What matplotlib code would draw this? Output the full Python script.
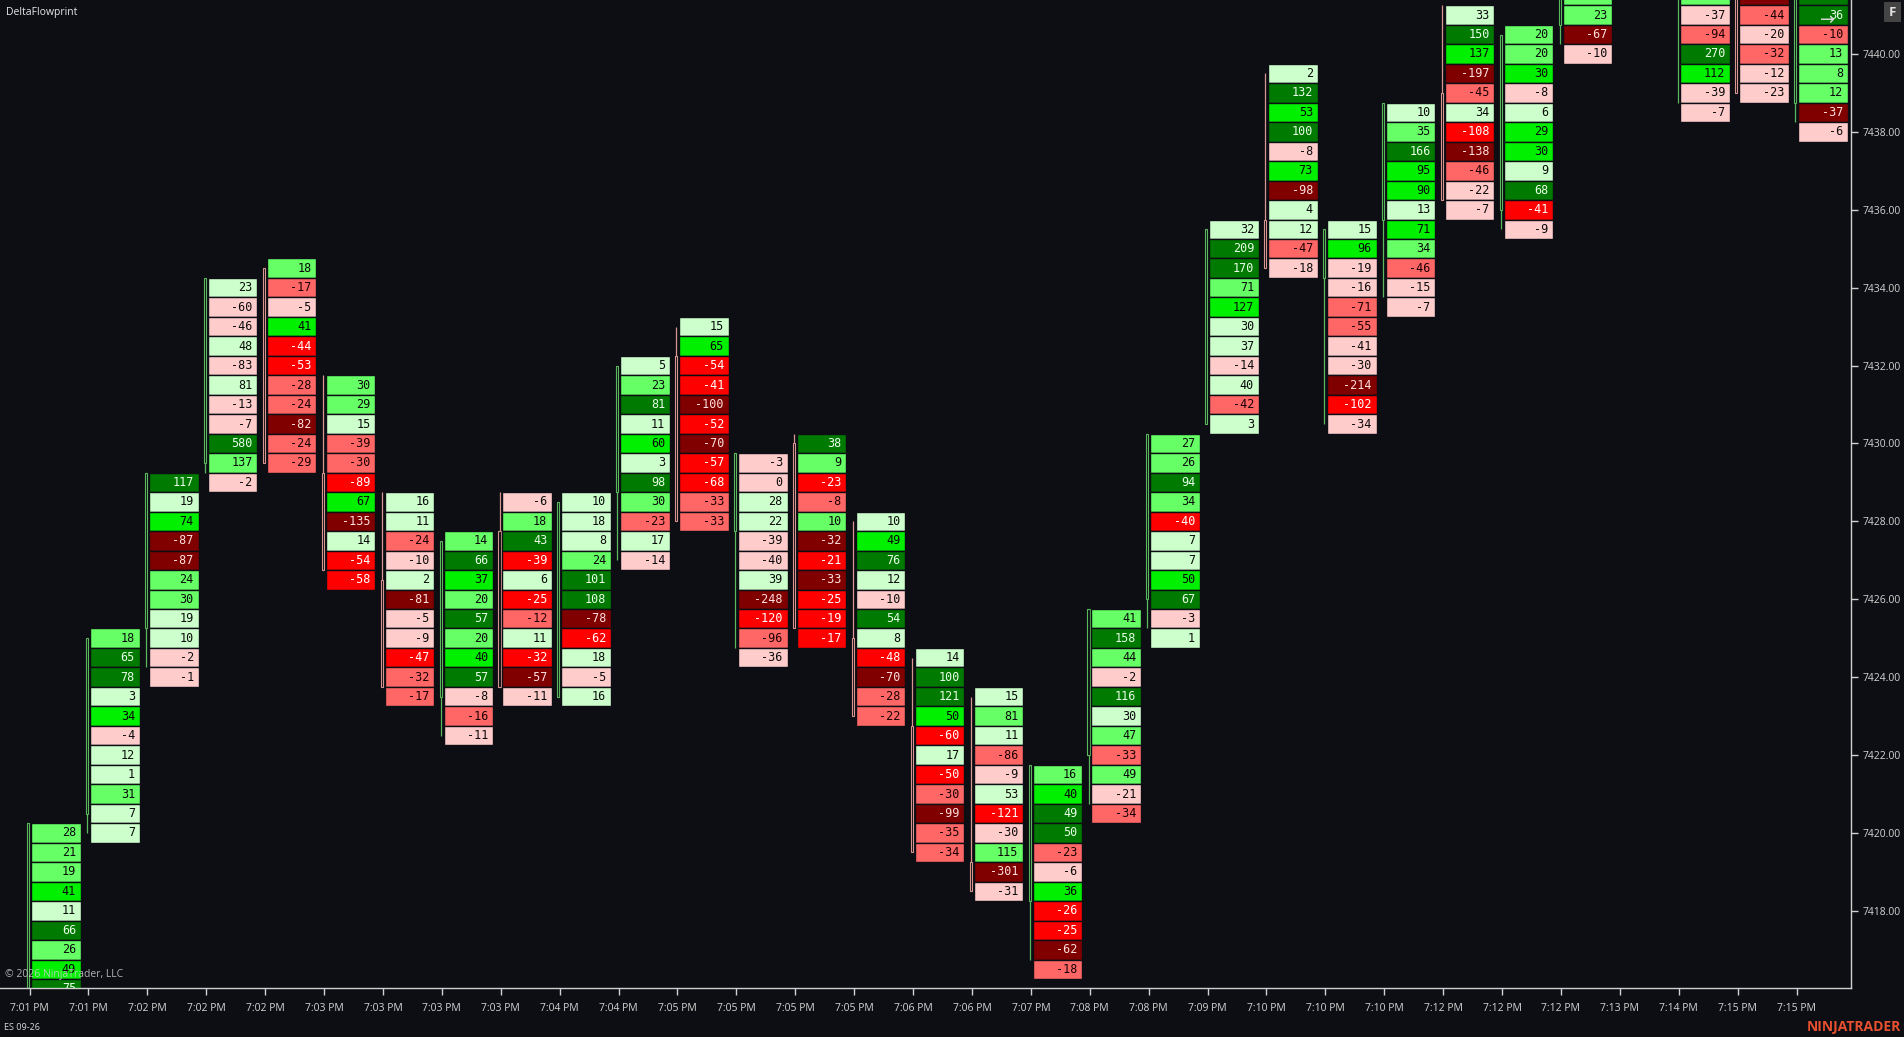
import matplotlib
matplotlib.use("Agg")
import matplotlib.pyplot as plt
from matplotlib.patches import Rectangle
import numpy as np

# ---------------- data ----------------
time_labels = ["7:01 PM", "7:01 PM", "7:02 PM", "7:02 PM", "7:02 PM", "7:03 PM", "7:03 PM",
               "7:03 PM", "7:03 PM", "7:04 PM", "7:04 PM", "7:05 PM", "7:05 PM", "7:05 PM",
               "7:05 PM", "7:06 PM", "7:06 PM", "7:07 PM", "7:08 PM", "7:08 PM", "7:09 PM",
               "7:10 PM", "7:10 PM", "7:10 PM", "7:12 PM", "7:12 PM", "7:12 PM", "7:13 PM",
               "7:14 PM", "7:15 PM", "7:15 PM"]

# price of the top cell of each bar (cells step down by 0.5)
top_prices = [7420.0, 7425.0, 7429.0, 7434.0, 7434.5, 7431.5, 7428.5, 7427.5, 7428.5, 7428.5,
              7432.0, 7433.0, 7429.5, 7430.0, 7428.0, 7424.5, 7423.5, 7421.5, 7425.5, 7430.0,
              7435.5, 7439.5, 7435.5, 7438.5, 7441.0, 7440.5, 7441.5, np.nan, 7441.5, 7441.5,
              7441.5]

deltas = [
    [28, 21, 19, 41, 11, 66, 26, 49, 75],
    [18, 65, 78, 3, 34, -4, 12, 1, 31, 7, 7],
    [117, 19, 74, -87, -87, 24, 30, 19, 10, -2, -1],
    [23, -60, -46, 48, -83, 81, -13, -7, 580, 137, -2],
    [18, -17, -5, 41, -44, -53, -28, -24, -82, -24, -29],
    [30, 29, 15, -39, -30, -89, 67, -135, 14, -54, -58],
    [16, 11, -24, -10, 2, -81, -5, -9, -47, -32, -17],
    [14, 66, 37, 20, 57, 20, 40, 57, -8, -16, -11],
    [-6, 18, 43, -39, 6, -25, -12, 11, -32, -57, -11],
    [10, 18, 8, 24, 101, 108, -78, -62, 18, -5, 16],
    [5, 23, 81, 11, 60, 3, 98, 30, -23, 17, -14],
    [15, 65, -54, -41, -100, -52, -70, -57, -68, -33, -33],
    [-3, 0, 28, 22, -39, -40, 39, -248, -120, -96, -36],
    [38, 9, -23, -8, 10, -32, -21, -33, -25, -19, -17],
    [10, 49, 76, 12, -10, 54, 8, -48, -70, -28, -22],
    [14, 100, 121, 50, -60, 17, -50, -30, -99, -35, -34],
    [15, 81, 11, -86, -9, 53, -121, -30, 115, -301, -31],
    [16, 40, 49, 50, -23, -6, 36, -26, -25, -62, -18],
    [41, 158, 44, -2, 116, 30, 47, -33, 49, -21, -34],
    [27, 26, 94, 34, -40, 7, 7, 50, 67, -3, 1],
    [32, 209, 170, 71, 127, 30, 37, -14, 40, -42, 3],
    [2, 132, 53, 100, -8, 73, -98, 4, 12, -47, -18],
    [15, 96, -19, -16, -71, -55, -41, -30, -214, -102, -34],
    [10, 35, 166, 95, 90, 13, 71, 34, -46, -15, -7],
    [33, 150, 137, -197, -45, 34, -108, -138, -46, -22, -7],
    [20, 20, 30, -8, 6, 29, 30, 9, 68, -41, -9],
    [20, 23, -67, -10],
    [],
    [80, -37, -94, 270, 112, -39, -7],
    [-140, -44, -20, -32, -12, -23],
    [40, 36, -10, 13, 8, 12, -37, -6],
]

bar_open = [7415.5, 7420.5, 7425.25, 7429.5, 7434.5, 7429.25, 7426.5, 7423.5, 7427.75, 7423.5,
            7428.75, 7432.25, 7427.75, 7430.0, 7425.0, 7422.75, 7419.25, 7418.25, 7422.0, 7426.0,
            7430.5, 7435.75, 7434.25, 7435.75, 7439.0, 7436.0, 7440.75, np.nan, 7441.75, 7443.0,
            7438.75]
bar_close = [7420.25, 7425.0, 7429.25, 7434.25, 7429.5, 7426.75, 7423.75, 7427.5, 7423.75, 7428.5,
             7432.0, 7428.0, 7429.75, 7425.25, 7423.0, 7419.5, 7418.5, 7421.75, 7425.75, 7430.25,
             7435.5, 7434.5, 7435.5, 7438.75, 7436.25, 7440.5, 7442.5, np.nan, 7443.0, 7439.0,
             7442.0]
bar_high = [7420.25, 7425.0, 7429.25, 7434.25, 7434.5, 7431.75, 7428.75, 7427.5, 7428.75, 7428.5,
            7432.0, 7433.0, 7429.75, 7430.25, 7428.0, 7424.5, 7423.5, 7421.75, 7425.75, 7430.25,
            7435.5, 7439.5, 7435.5, 7438.75, 7441.25, 7440.5, 7442.5, np.nan, 7443.0, 7443.0,
            7442.0]
bar_low = [7414.0, 7420.0, 7424.25, 7429.25, 7429.5, 7426.75, 7423.75, 7422.5, 7423.75, 7423.5,
           7427.0, 7428.0, 7424.75, 7425.25, 7423.0, 7419.5, 7418.5, 7416.75, 7420.75, 7425.25,
           7430.5, 7434.5, 7430.5, 7433.75, 7436.25, 7435.5, 7440.25, np.nan, 7438.75, 7439.0,
           7438.25]

price_ticks = [7418, 7420, 7422, 7424, 7426, 7428, 7430, 7432, 7434, 7436, 7438, 7440]

# ---------------- style ----------------
BG = "#0c0e13"
GREENS = ["#ccffcc", "#66ff66", "#00f000", "#007a00"]
REDS = ["#ffcccc", "#ff6666", "#ff0000", "#800000"]
GREEN_TXT = ["#0a0a0a", "#0a0a0a", "#0a0a0a", "#eaffea"]
RED_TXT = ["#0a0a0a", "#1a0000", "#ffffff", "#ffe0e0"]
CANDLE_UP = "#5cb85c"
CANDLE_DN = "#d99590"

W, H = 1904, 1037
fig = plt.figure(figsize=(W / 100, H / 100), dpi=100, facecolor=BG)
ax_left, ax_bottom = 0, 49
ax_w, ax_h = 1851, 988
ax = fig.add_axes([ax_left / W, ax_bottom / H, ax_w / W, ax_h / H])
ax.set_facecolor(BG)

Y_LO, Y_HI = 7416.02, 7441.386
ax.set_xlim(-0.501, 30.925)
ax.set_ylim(Y_LO, Y_HI)


def level(v, m):
    r = abs(v) / m if m else 0
    if r >= 0.7:
        return 3
    if r >= 0.4:
        return 2
    if r >= 0.2:
        return 1
    return 0


cell_l, cell_w = 0.03, 0.84
for i, vals in enumerate(deltas):
    if not vals:
        continue
    m = max(abs(v) for v in vals)
    top = top_prices[i]
    for j, v in enumerate(vals):
        p = top - 0.5 * j
        lv = level(v, m)
        if v > 0:
            fc, tc = GREENS[lv], GREEN_TXT[lv]
        else:
            fc, tc = REDS[lv], RED_TXT[lv]
        ax.add_patch(Rectangle((i + cell_l, p - 0.25), cell_w, 0.5, facecolor=fc,
                               edgecolor=BG, linewidth=1.0, zorder=2))
        if p > Y_HI:
            continue  # only a sliver of this cell is on screen, its label is hidden
        ax.text(i + cell_l + cell_w - 0.08, p, str(v), ha="right", va="center",
                fontsize=8.5, family="DejaVu Sans Mono", color=tc, zorder=3, clip_on=True)

# mini candles on the left of each bar
for i in range(len(bar_open)):
    o, c, hi, lo = bar_open[i], bar_close[i], bar_high[i], bar_low[i]
    if np.isnan(o):
        continue
    col = CANDLE_UP if c >= o else CANDLE_DN
    x = i - 0.02
    ax.plot([x, x], [lo, hi], color=col, lw=0.9, zorder=1, solid_capstyle="butt")
    ax.add_patch(Rectangle((x - 0.018, min(o, c)), 0.036, abs(c - o), facecolor=BG,
                           edgecolor=col, linewidth=0.8, zorder=1.5))

# axes styling
for s in ["left", "top"]:
    ax.spines[s].set_visible(False)
for s in ["bottom", "right"]:
    ax.spines[s].set_color("#d0d0d0")
    ax.spines[s].set_linewidth(1.0)

ax.set_xticks(range(len(time_labels)))
ax.set_xticklabels(time_labels)
ax.yaxis.tick_right()
ax.set_yticks(price_ticks)
ax.set_yticklabels([f"{p:.2f}" for p in price_ticks])
ax.tick_params(axis="x", colors="#d0d0d0", length=5, width=1, pad=6, labelsize=7.5,
               labelcolor="#d4d4d4")
ax.tick_params(axis="y", colors="#d0d0d0", length=5, width=1, pad=3, labelsize=7.5,
               labelcolor="#d4d4d4")
for lab in ax.get_xticklabels() + ax.get_yticklabels():
    lab.set_family("Open Sans")

# overlay texts
fig.text(6 / W, 1 - 12 / H, "DeltaFlowprint", fontsize=7.5, color="#e6e6e6",
         family="Open Sans", va="center", ha="left")
fig.text(5 / W, 1 - 975 / H, "© 2026 NinjaTrader, LLC", fontsize=7.5, color="#cfcfcf",
         alpha=0.85, family="Open Sans", va="center", ha="left", zorder=10)
fig.text(4 / W, 1 - 1027 / H, "ES 09-26", fontsize=6.5, color="#d8d8d8",
         family="Open Sans", va="center", ha="left")
fig.text(1901 / W, 1 - 1027 / H, "NINJATRADER", fontsize=10, color="#e8502f",
         family="Open Sans", fontweight="bold", va="center", ha="right")
fig.patches.append(Rectangle((1884 / W, 1 - 22 / H), 17 / W, 20 / H, transform=fig.transFigure,
                             facecolor="#444444", edgecolor="none", figure=fig))
fig.text(1892.5 / W, 1 - 12 / H, "F", fontsize=9.5, color="#e0e0e0", family="Open Sans",
         fontweight="bold", va="center", ha="center")
fig.text(1828 / W, 1 - 20 / H, "→", fontsize=13, color="#d6d6d6", family="DejaVu Sans",
         va="center", ha="center", zorder=10)

fig.savefig("out.png", dpi=100, facecolor=BG)
